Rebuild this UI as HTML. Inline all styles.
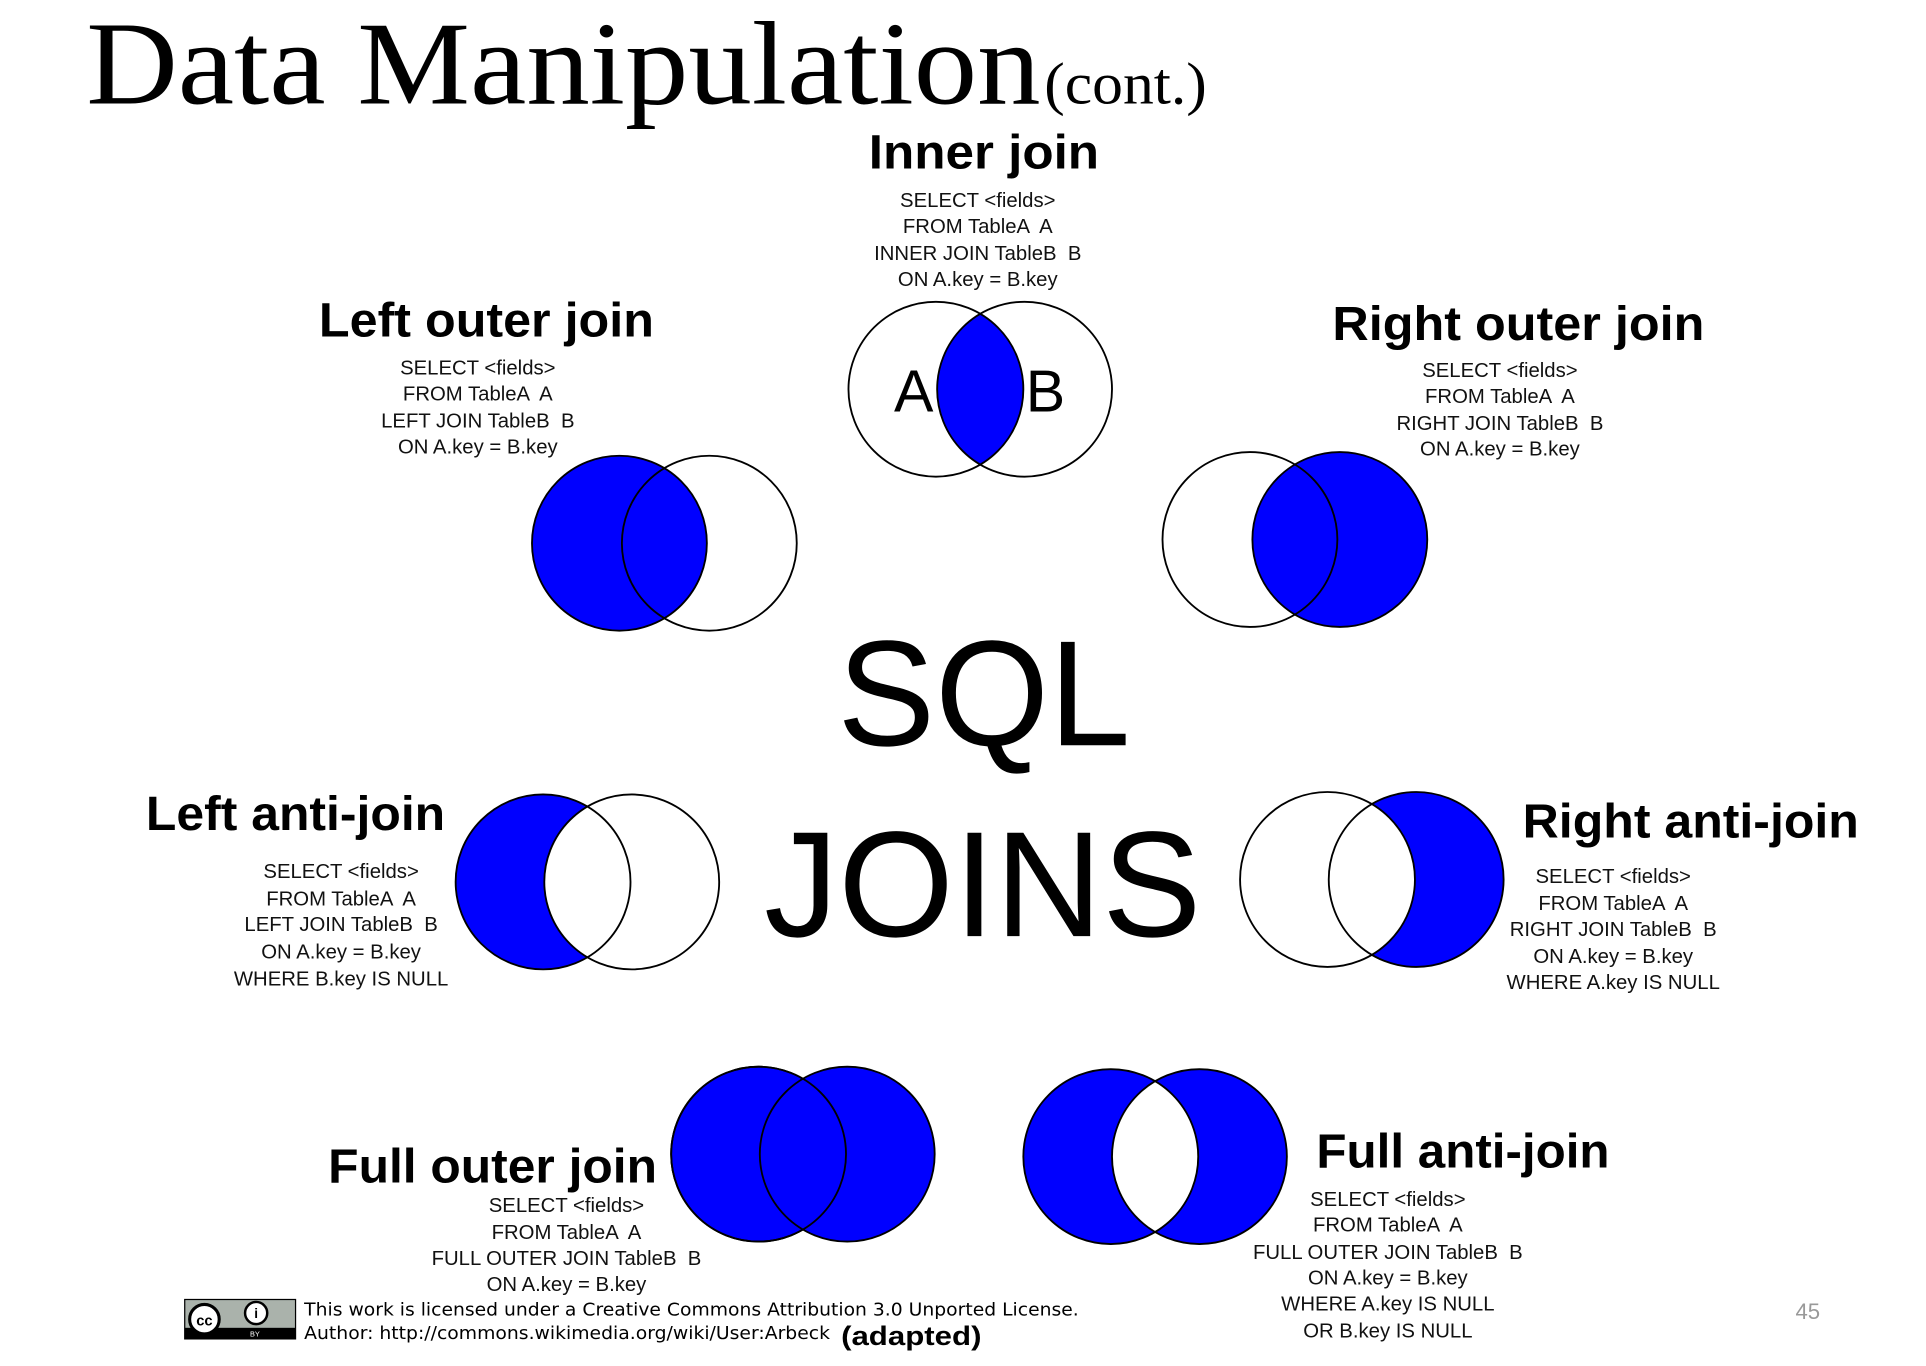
<!DOCTYPE html>
<html><head><meta charset="utf-8"><style>
html,body{margin:0;padding:0;background:#fff;}
svg{display:block;}
.h{font-family:"Liberation Sans",sans-serif;font-weight:bold;font-size:39px;text-anchor:middle;}
.c{font-family:"Liberation Sans",sans-serif;font-size:16.5px;text-anchor:middle;fill:#111;white-space:pre;}
.big{font-family:"Liberation Sans",sans-serif;font-size:122px;text-anchor:middle;}
</style></head><body>
<svg width="1926" height="1366" viewBox="0 0 1564 1109" preserveAspectRatio="none" xmlns="http://www.w3.org/2000/svg" xml:space="preserve">
<defs>
<clipPath id="c1"><circle cx="832" cy="316" r="71"/></clipPath>
<clipPath id="la"><circle cx="441" cy="716" r="71"/></clipPath>
<clipPath id="ra"><circle cx="1150" cy="714" r="71"/></clipPath>
</defs>
<text x="70" y="84" font-family="Liberation Serif,serif" font-size="96" textLength="775" lengthAdjust="spacingAndGlyphs">Data Manipulation</text>
<text x="848" y="84" font-family="Liberation Serif,serif" font-size="48" textLength="132" lengthAdjust="spacingAndGlyphs">(cont.)</text>

<!-- Inner join -->
<text class="h" x="799" y="137" textLength="187" lengthAdjust="spacingAndGlyphs">Inner join</text>
<text class="c" x="794" y="168">SELECT &lt;fields&gt;</text>
<text class="c" x="794" y="189">FROM TableA  A</text>
<text class="c" x="794" y="211">INNER JOIN TableB  B</text>
<text class="c" x="794" y="232">ON A.key = B.key</text>
<circle cx="760" cy="316" r="71" fill="#00f" clip-path="url(#c1)"/>
<circle cx="760" cy="316" r="71" fill="none" stroke="#000" stroke-width="1.5"/>
<circle cx="832" cy="316" r="71" fill="none" stroke="#000" stroke-width="1.5"/>
<text x="742" y="334" font-family="Liberation Sans,sans-serif" font-size="48" text-anchor="middle">A</text>
<text x="849" y="334" font-family="Liberation Sans,sans-serif" font-size="48" text-anchor="middle">B</text>

<!-- Left outer -->
<text class="h" x="395" y="273" textLength="272" lengthAdjust="spacingAndGlyphs">Left outer join</text>
<text class="c" x="388" y="304">SELECT &lt;fields&gt;</text>
<text class="c" x="388" y="325">FROM TableA  A</text>
<text class="c" x="388" y="347">LEFT JOIN TableB  B</text>
<text class="c" x="388" y="368">ON A.key = B.key</text>
<circle cx="503" cy="441" r="71" fill="#00f" stroke="#000" stroke-width="1.5"/>
<circle cx="576" cy="441" r="71" fill="none" stroke="#000" stroke-width="1.5"/>

<!-- Right outer -->
<text class="h" x="1233" y="276" textLength="302" lengthAdjust="spacingAndGlyphs">Right outer join</text>
<text class="c" x="1218" y="306">SELECT &lt;fields&gt;</text>
<text class="c" x="1218" y="327">FROM TableA  A</text>
<text class="c" x="1218" y="349">RIGHT JOIN TableB  B</text>
<text class="c" x="1218" y="370">ON A.key = B.key</text>
<circle cx="1088" cy="438" r="71" fill="#00f" stroke="#000" stroke-width="1.5"/>
<circle cx="1015" cy="438" r="71" fill="none" stroke="#000" stroke-width="1.5"/>

<!-- SQL JOINS -->
<text class="big" x="799" y="605" textLength="238" lengthAdjust="spacingAndGlyphs">SQL</text>
<text class="big" x="798" y="760" textLength="355" lengthAdjust="spacingAndGlyphs">JOINS</text>

<!-- Left anti -->
<text class="h" x="240" y="674" textLength="243" lengthAdjust="spacingAndGlyphs">Left anti-join</text>
<text class="c" x="277" y="713">SELECT &lt;fields&gt;</text>
<text class="c" x="277" y="735">FROM TableA  A</text>
<text class="c" x="277" y="756">LEFT JOIN TableB  B</text>
<text class="c" x="277" y="778">ON A.key = B.key</text>
<text class="c" x="277" y="800">WHERE B.key IS NULL</text>
<circle cx="441" cy="716" r="71" fill="#00f"/>
<circle cx="513" cy="716" r="71" fill="#fff" clip-path="url(#la)"/>
<circle cx="441" cy="716" r="71" fill="none" stroke="#000" stroke-width="1.5"/>
<circle cx="513" cy="716" r="71" fill="none" stroke="#000" stroke-width="1.5"/>

<!-- Right anti -->
<text class="h" x="1373" y="680" textLength="273" lengthAdjust="spacingAndGlyphs">Right anti-join</text>
<text class="c" x="1310" y="717">SELECT &lt;fields&gt;</text>
<text class="c" x="1310" y="739">FROM TableA  A</text>
<text class="c" x="1310" y="760">RIGHT JOIN TableB  B</text>
<text class="c" x="1310" y="782">ON A.key = B.key</text>
<text class="c" x="1310" y="803">WHERE A.key IS NULL</text>
<circle cx="1150" cy="714" r="71" fill="#00f"/>
<circle cx="1078" cy="714" r="71" fill="#fff" clip-path="url(#ra)"/>
<circle cx="1078" cy="714" r="71" fill="none" stroke="#000" stroke-width="1.5"/>
<circle cx="1150" cy="714" r="71" fill="none" stroke="#000" stroke-width="1.5"/>

<!-- Full outer -->
<text class="h" x="400" y="960" textLength="267" lengthAdjust="spacingAndGlyphs">Full outer join</text>
<text class="c" x="460" y="984">SELECT &lt;fields&gt;</text>
<text class="c" x="460" y="1006">FROM TableA  A</text>
<text class="c" x="460" y="1027">FULL OUTER JOIN TableB  B</text>
<text class="c" x="460" y="1048">ON A.key = B.key</text>
<circle cx="616" cy="937" r="71" fill="#00f" stroke="#000" stroke-width="1.5"/>
<circle cx="688" cy="937" r="71" fill="#00f" stroke="#000" stroke-width="1.5"/>
<circle cx="616" cy="937" r="71" fill="none" stroke="#000" stroke-width="1.5"/>

<!-- Full anti -->
<text class="h" x="1188" y="948" textLength="238" lengthAdjust="spacingAndGlyphs">Full anti-join</text>
<text class="c" x="1127" y="979">SELECT &lt;fields&gt;</text>
<text class="c" x="1127" y="1000">FROM TableA  A</text>
<text class="c" x="1127" y="1022">FULL OUTER JOIN TableB  B</text>
<text class="c" x="1127" y="1043">ON A.key = B.key</text>
<text class="c" x="1127" y="1064">WHERE A.key IS NULL</text>
<text class="c" x="1127" y="1086">OR B.key IS NULL</text>
<path d="M938,877.8 A71,71 0 1,0 938,1000.2 A71,71 0 0,1 938,877.8 Z" fill="#00f"/>
<path d="M938,877.8 A71,71 0 1,1 938,1000.2 A71,71 0 0,0 938,877.8 Z" fill="#00f"/>
<circle cx="902" cy="939" r="71" fill="none" stroke="#000" stroke-width="1.5"/>
<circle cx="974" cy="939" r="71" fill="none" stroke="#000" stroke-width="1.5"/>

<!-- License -->
<rect x="150" y="1055" width="90" height="32" fill="#aab2ab" stroke="#000" stroke-width="1"/>
<rect x="150" y="1078" width="90" height="9" fill="#000"/>
<circle cx="166" cy="1071" r="12" fill="#fff" stroke="#000" stroke-width="2.5"/>
<text x="166" y="1076" font-family="Liberation Sans,sans-serif" font-size="12" font-weight="bold" text-anchor="middle">cc</text>
<circle cx="208" cy="1066" r="9" fill="#fff" stroke="#000" stroke-width="2"/>
<text x="208" y="1070" font-family="Liberation Sans,sans-serif" font-size="11" font-weight="bold" text-anchor="middle">i</text>
<text x="207" y="1085" font-family="Liberation Sans,sans-serif" font-size="6" fill="#fff" text-anchor="middle">BY</text>
<text x="247" y="1068" font-family="DejaVu Sans,sans-serif" font-size="14.5" textLength="629" lengthAdjust="spacingAndGlyphs">This work is licensed under a Creative Commons Attribution 3.0 Unported License.</text>
<text x="247" y="1087" font-family="DejaVu Sans,sans-serif" font-size="14.5" textLength="427" lengthAdjust="spacingAndGlyphs">Author: http://commons.wikimedia.org/wiki/User:Arbeck</text>
<text x="683" y="1092" font-family="Liberation Sans,sans-serif" font-weight="bold" font-size="22" textLength="114" lengthAdjust="spacingAndGlyphs">(adapted)</text>
<text x="1468" y="1071" font-family="Liberation Sans,sans-serif" font-size="18" fill="#999" text-anchor="middle">45</text>
</svg>
</body></html>
